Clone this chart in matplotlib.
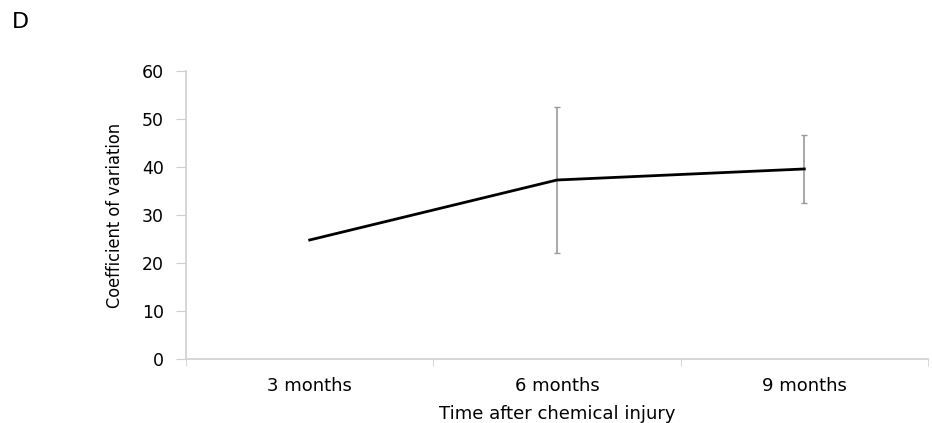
import numpy as np
import matplotlib.pyplot as plt

labels = ['3 months', '6 months', '9 months']
cv_mean = [24.8, 37.3, 39.6]
cv_err = [0, 15.2, 7.1]

plt.rcParams['font.family'] = ['DejaVu Sans']

fig = plt.figure(figsize=(9.32, 4.23), dpi=100)
ax = fig.add_axes([0.1996, 0.1513, 0.7961, 0.6807])

x = np.arange(len(labels))
ax.errorbar(x[1:], cv_mean[1:], yerr=cv_err[1:], fmt='none', ecolor='#9a9a9a',
            elinewidth=1.2, capsize=2, capthick=1)
ax.plot(x, cv_mean, color='black', lw=2)

ax.set_xlim(-0.5, 2.5)
ax.set_ylim(0, 60)
ax.set_yticks(range(0, 61, 10))
ax.set_xticks(x, labels)
ax.set_xticks([-0.5, 0.5, 1.5, 2.5], minor=True)
ax.tick_params(axis='x', which='major', length=0, pad=13, labelsize=13)
ax.tick_params(axis='x', which='minor', length=5, color='#d0d0d0')
ax.tick_params(axis='y', length=7, color='#d0d0d0', pad=9, labelsize=12.5)

for s in ['top', 'right']:
    ax.spines[s].set_visible(False)
for s in ['left', 'bottom']:
    ax.spines[s].set_color('#d0d0d0')
    ax.spines[s].set_linewidth(1.2)

ax.set_xlabel('Time after chemical injury', fontsize=13, labelpad=7)
ax.set_ylabel('Coefficient of variation', fontsize=13, labelpad=13,
              fontstretch='condensed')

fig.text(0.013, 1 - 12 / 423, 'D', fontsize=16, va='top')

fig.savefig('out.png', dpi=100)
